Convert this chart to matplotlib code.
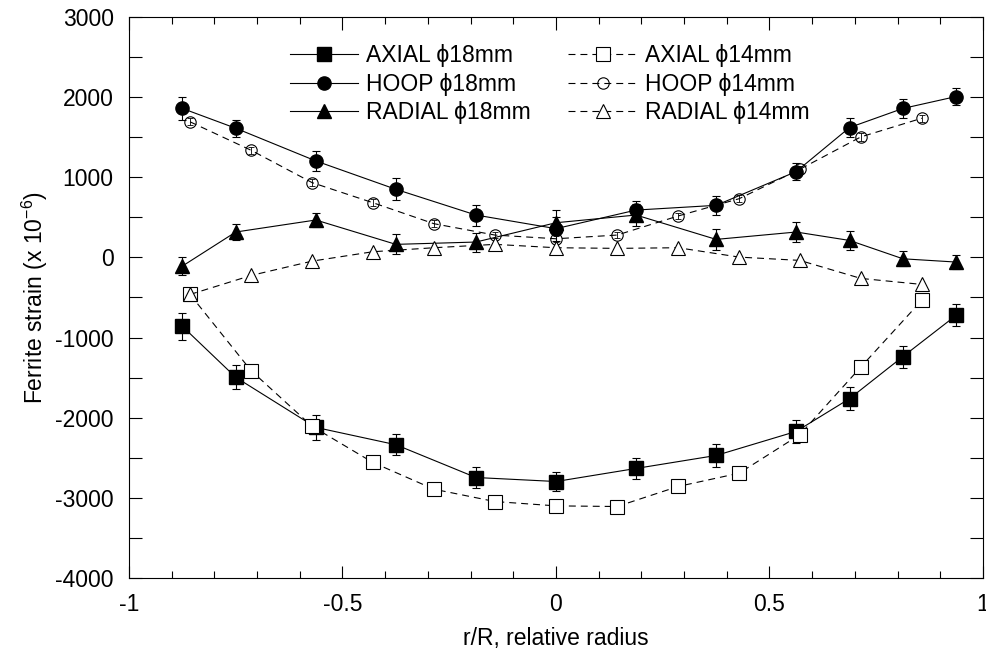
import numpy as np
import matplotlib
matplotlib.use("Agg")
import matplotlib.pyplot as plt
from matplotlib.ticker import MultipleLocator

plt.rcParams['font.family'] = ['Liberation Sans', 'DejaVu Sans']
plt.rcParams['mathtext.default'] = 'regular'
plt.rcParams['lines.scale_dashes'] = False
plt.rcParams['axes.unicode_minus'] = False

# radial positions (r/R)
x18 = [-0.875, -0.75, -0.5625, -0.375, -0.1875, 0.0, 0.1875, 0.375, 0.5625, 0.6875, 0.8125, 0.9375]
x14 = [-0.857, -0.714, -0.571, -0.429, -0.286, -0.143, 0.0, 0.143, 0.286, 0.429, 0.571, 0.714, 0.857]

# phi 18 mm
axial18 = [-860, -1496, -2121, -2337, -2746, -2796, -2633, -2471, -2171, -1762, -1237, -721]
axial18_err = [165, 150, 156, 131, 130, 120, 133, 141, 146, 141, 137, 135]
hoop18 = [1859, 1612, 1204, 850, 529, 359, 591, 650, 1071, 1621, 1859, 2008]
hoop18_err = [140, 104, 129, 137, 131, 150, 110, 115, 104, 117, 121, 106]
radial18 = [-108, 317, 467, 163, 192, 433, 529, 225, 317, 212, -17, -58]
radial18_err = [110, 94, 88, 125, 119, 158, 137, 135, 119, 117, 96, 83]

# phi 14 mm
axial14 = [-462, -1413, -2108, -2558, -2892, -3046, -3100, -3108, -2858, -2692, -2212, -1367, -533]
hoop14 = [1692, 1337, 933, 683, 421, 279, 233, 279, 517, 733, 1100, 1504, 1737]
hoop14_err = [45, 45, 45, 40, 40, 40, 40, 40, 40, 40, 45, 45, 45]
radial14 = [-462, -225, -46, 71, 121, 163, 121, 113, 121, 4, -37, -262, -337]

fig = plt.figure(figsize=(9.87, 6.56), dpi=100)
ax = fig.add_axes([129 / 987, 1 - 578 / 656, 854 / 987, 561 / 656])

lw = 0.8
ms = 9.5
dash = (0, (5, 3.6))

# error bars first
eb = dict(fmt='none', ecolor='black', elinewidth=lw, capsize=2.9, capthick=lw)
ax.errorbar(x18, axial18, yerr=axial18_err, **eb)
ax.errorbar(x18, hoop18, yerr=hoop18_err, **eb)
ax.errorbar(x18, radial18, yerr=radial18_err, **eb)
ax.errorbar(x14, hoop14, yerr=hoop14_err, fmt='none', ecolor='black', elinewidth=0.6,
            capsize=2.2, capthick=0.6, zorder=4)

h1, = ax.plot(x18, axial18, '-', color='black', lw=lw, marker='s', ms=ms,
              mfc='black', mec='black', label='AXIAL \u03d518mm', zorder=3)
h2, = ax.plot(x18, hoop18, '-', color='black', lw=lw, marker='o', ms=ms,
              mfc='black', mec='black', label='HOOP \u03d518mm', zorder=3)
h3, = ax.plot(x18, radial18, '-', color='black', lw=lw, marker='^', ms=ms,
              mfc='black', mec='black', label='RADIAL \u03d518mm', zorder=3)
h4, = ax.plot(x14, axial14, color='black', lw=lw, ls=dash, marker='s', ms=ms,
              mfc='white', mec='black', mew=lw, label='AXIAL \u03d514mm', zorder=3)
h5, = ax.plot(x14, hoop14, color='black', lw=lw, ls=dash, marker='o', ms=8.2,
              mfc='none', mec='black', mew=lw, label='HOOP \u03d514mm', zorder=3)
h6, = ax.plot(x14, radial14, color='black', lw=lw, ls=dash, marker='^', ms=ms,
              mfc='white', mec='black', mew=lw, label='RADIAL \u03d514mm', zorder=3)

ax.set_xlim(-1, 1)
ax.set_ylim(-4000, 3000)
ax.xaxis.set_major_locator(MultipleLocator(0.5))
ax.xaxis.set_minor_locator(MultipleLocator(0.1))
ax.yaxis.set_major_locator(MultipleLocator(1000))
ax.yaxis.set_minor_locator(MultipleLocator(500))
ax.xaxis.set_major_formatter(plt.FuncFormatter(lambda v, p: '%g' % v))

ax.tick_params(which='both', direction='in', top=True, right=True, labelsize=16.5, width=lw)
ax.tick_params(axis='x', which='major', length=9, pad=11)
ax.tick_params(axis='x', which='minor', length=5)
ax.tick_params(axis='y', which='both', length=9.5, pad=11)
for s in ax.spines.values():
    s.set_linewidth(lw)

ax.set_xlabel('r/R, relative radius', fontsize=16.5, labelpad=8)
ax.set_ylabel('Ferrite strain (x 10$^{-6}$)', fontsize=16.5, labelpad=4)

ax.legend(handles=[h1, h2, h3, h4, h5, h6], ncol=2, loc='upper left',
          bbox_to_anchor=(0.188, 0.951), frameon=False, fontsize=16.5,
          handlelength=3.0, handletextpad=0.35, columnspacing=1.63,
          labelspacing=0.23, borderpad=0, borderaxespad=0)

fig.savefig('out.png', dpi=100)
